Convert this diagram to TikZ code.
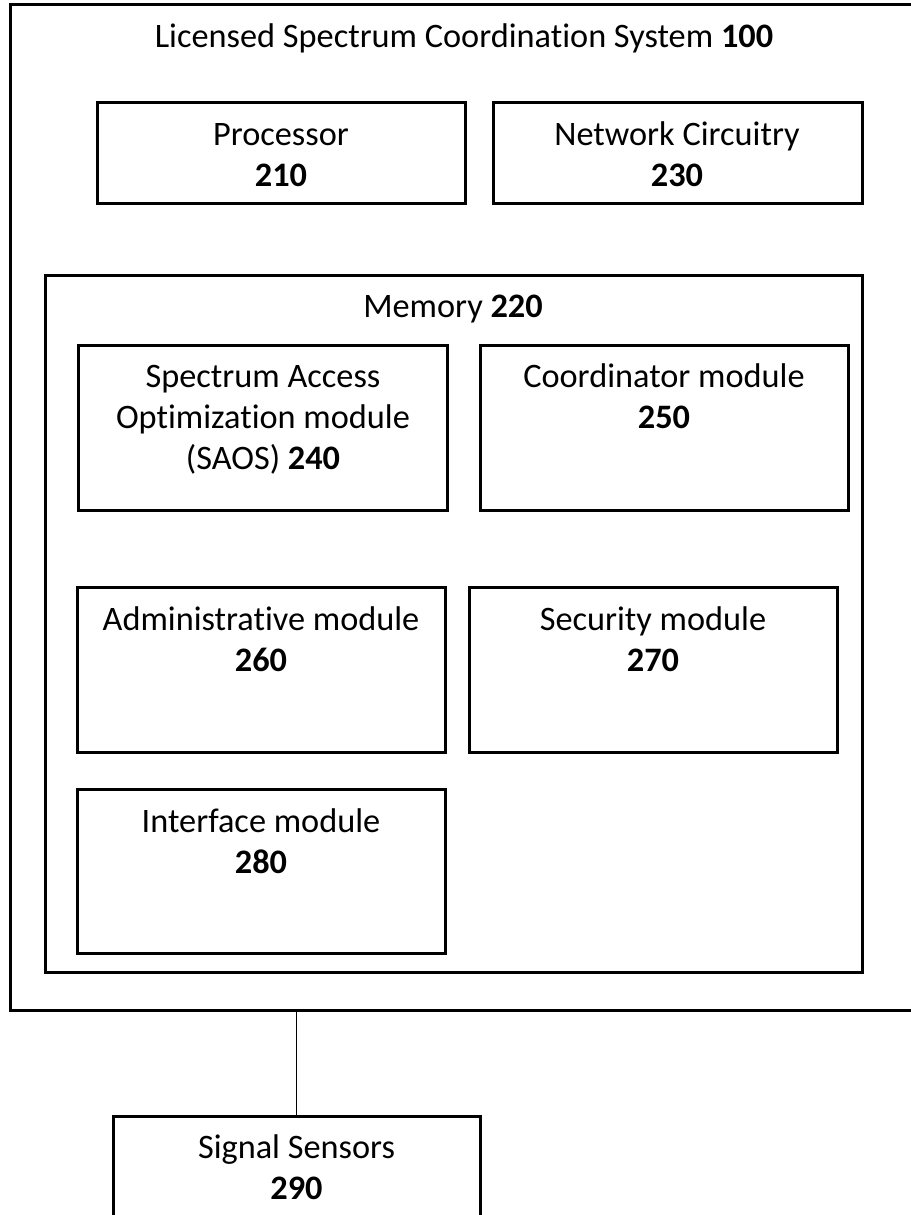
\documentclass[tikz,border=0pt]{standalone}
\usepackage{fontspec}
\setmainfont{Carlito}[Ligatures=NoCommon]
\begin{document}
\begin{tikzpicture}[x=1pt,y=-1pt,
  box/.style={draw=black, line width=3pt, rectangle, inner sep=0pt},
  lbl/.style={font=\fontsize{34.3}{41}\selectfont, align=center, inner sep=0pt, anchor=base},
  link/.style={draw=black, line width=1.5pt}]
  \useasboundingbox (0,0) rectangle (910,1215);

  % outer system frame (runs past the right edge)
  \node[box, minimum width=910pt, minimum height=1005pt] (sys) at (465,507.5) {};
  \node[lbl] (sysT) at (464,48) {Licensed Spectrum Coordination System \textbf{100}};

  % processor and network circuitry (base = baseline of the last line)
  \node[box, minimum width=368pt, minimum height=101pt] (proc) at (281,152.5) {};
  \node[lbl] (procT) at (281,186) {Processor\\\textbf{210}};
  \node[box, minimum width=369pt, minimum height=101pt] (net) at (677.5,152.5) {};
  \node[lbl] (netT) at (677,186) {Network Circuitry\\\textbf{230}};

  % memory and its modules
  \node[box, minimum width=817pt, minimum height=697pt] (mem) at (453.5,623.5) {};
  \node[lbl] (memT) at (453,317) {Memory \textbf{220}};

  \node[box, minimum width=369pt, minimum height=165pt] (saos) at (262.5,427.5) {};
  \node[lbl] (saosT) at (263,469) {Spectrum Access\\Optimization module\\(SAOS) \textbf{240}};
  \node[box, minimum width=368pt, minimum height=165pt] (coord) at (664,427.5) {};
  \node[lbl] (coordT) at (664,428) {Coordinator module\\\textbf{250}};

  \node[box, minimum width=368pt, minimum height=165pt] (admin) at (261,669.5) {};
  \node[lbl] (adminT) at (261,671) {Administrative module\\\textbf{260}};
  \node[box, minimum width=368pt, minimum height=165pt] (sec) at (653,669.5) {};
  \node[lbl] (secT) at (653,671) {Security module\\\textbf{270}};

  \node[box, minimum width=368pt, minimum height=164pt] (iface) at (261,871) {};
  \node[lbl] (ifaceT) at (261,873) {Interface module\\\textbf{280}};

  % external sensors (runs past the bottom edge)
  \node[box, minimum width=367pt, minimum height=124pt] (sens) at (296.5,1178) {};
  \node[lbl] (sensT) at (296.5,1199) {Signal Sensors\\\textbf{290}};

  \draw[link] (sens.north |- sys.south) -- (sens.north);
\end{tikzpicture}
\end{document}
